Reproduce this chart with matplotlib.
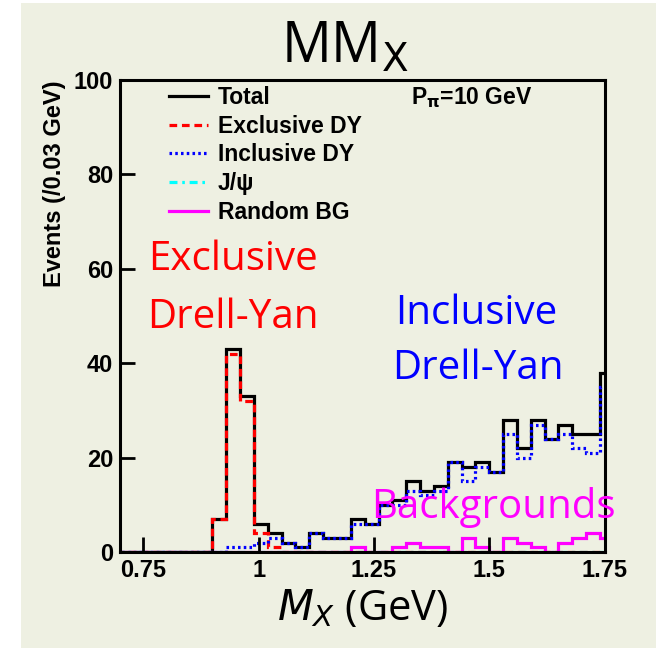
import numpy as np
import matplotlib
matplotlib.use("Agg")
import matplotlib.pyplot as plt
from matplotlib.patches import Rectangle
from matplotlib.lines import Line2D

# bin edges of 0.03 GeV, histogram drawn in 0.70-1.75
edges = np.round(np.arange(0.69, 1.771, 0.03), 2)

total = [0, 0, 0, 0, 0, 0, 0, 7, 43, 33, 6, 4, 2, 1, 4, 3, 3, 7, 6, 10, 11,
         15, 13, 14, 19, 18, 19, 17, 28, 22, 28, 24, 27, 25, 25, 38]
excl_dy = [0, 0, 0, 0, 0, 0, 0, 7, 42, 32, 4, 1, 0, 0, 0, 0, 0, 0, 0, 0, 0,
           0, 0, 0, 0, 0, 0, 0, 0, 0, 0, 0, 0, 0, 0, 0]
incl_dy = [0, 0, 0, 0, 0, 0, 0, 0, 1, 1, 2, 3, 2, 1, 4, 3, 3, 6, 6, 10, 10,
           13, 12, 13, 19, 15, 18, 17, 25, 20, 27, 24, 25, 22, 21, 35]
jpsi = [0] * 36
random_bg = [0, 0, 0, 0, 0, 0, 0, 0, 0, 0, 0, 0, 0, 0, 0, 0, 0, 1, 0, 0, 1,
             2, 1, 1, 0, 3, 1, 0, 3, 2, 1, 0, 2, 3, 4, 3]

x_ticks = [0.75, 1.0, 1.25, 1.5, 1.75]
x_ticklabels = ["0.75", "1", "1.25", "1.5", "1.75"]
y_ticks = [0, 20, 40, 60, 80, 100]

bg_col = "#eef0e2"
bold = dict(family="Liberation Sans", weight="bold")
calib = "Open Sans"

fig = plt.figure(figsize=(6.56, 6.48), dpi=100)
fig.patch.set_facecolor("white")
fig.patches.append(Rectangle((21 / 656, 0), 1, 1 - 3 / 648, transform=fig.transFigure,
                             facecolor=bg_col, edgecolor="none", zorder=-10))

ax = fig.add_axes([0.1832, 0.1481, 0.7384, 0.7284])
ax.set_facecolor(bg_col)

lw = 2.3
dash = (0, (2.4, 1.5))
dot = (0, (0.8, 1.0))
dashdot = (0, (2.5, 1.5, 0.8, 1.5))
ax.stairs(total, edges, color="black", lw=lw)
ax.stairs(excl_dy, edges, color="red", lw=lw, ls=dash)
ax.stairs(incl_dy, edges, color="blue", lw=lw, ls=dot)
ax.stairs(jpsi, edges, color="cyan", lw=lw, ls=dashdot)
ax.stairs(random_bg, edges, color="magenta", lw=lw)

ax.set_xlim(0.70, 1.75)
ax.set_ylim(0, 100)
ax.set_xticks(x_ticks)
ax.set_xticklabels(x_ticklabels, **bold, fontsize=17)
ax.set_yticks(y_ticks)
ax.set_yticklabels([str(v) for v in y_ticks], **bold, fontsize=17)
ax.tick_params(direction="in", length=10.5, width=2, top=False, right=False, pad=5)
for s in ax.spines.values():
    s.set_linewidth(2.2)

ax.set_ylabel("Events (/0.03 GeV)", loc="top", fontsize=17, **bold)
ax.yaxis.set_label_coords(-0.112, 1.0)

ax.set_xlabel(r"$\mathit{M_X}$ (GeV)", fontsize=30, family=calib, labelpad=4)

fig.text(0.525, 0.904, r"MM$_{\mathrm{X}}$", fontsize=40, family=calib, ha="center", va="baseline")

# legend
handles = [Line2D([], [], color="black", lw=lw),
           Line2D([], [], color="red", lw=lw, ls=dash),
           Line2D([], [], color="blue", lw=lw, ls=dot),
           Line2D([], [], color="cyan", lw=lw, ls=dashdot),
           Line2D([], [], color="magenta", lw=lw)]
labels = ["Total", "Exclusive DY", "Inclusive DY", "J/\u03c8", "Random BG"]
ax.legend(handles, labels, loc="upper left", bbox_to_anchor=(0.10, 0.988), frameon=False,
          prop=dict(family="Liberation Sans", weight="bold", size=16.5),
          handlelength=1.7, handletextpad=0.45, labelspacing=0.255,
          borderpad=0, borderaxespad=0)

ax.text(0.60, 0.962, r"P$_\mathbf{\pi}$=10 GeV", transform=ax.transAxes, fontsize=16.5,
        **bold, va="center")

ann = dict(fontsize=29, family=calib, ha="center", va="center")
ax.text(0.945, 62, "Exclusive", color="red", **ann)
ax.text(0.945, 49.6, "Drell-Yan", color="red", **ann)
ax.text(1.472, 50.4, "Inclusive", color="blue", **ann)
ax.text(1.476, 38.8, "Drell-Yan", color="blue", **ann)
ax.text(1.51, 9.5, "Backgrounds", color="magenta", clip_on=False, **ann)

fig.savefig("out.png", dpi=100, facecolor=fig.get_facecolor())
